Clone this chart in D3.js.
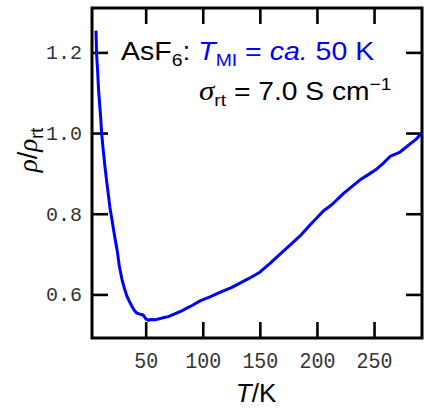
<!DOCTYPE html>
<html><head><meta charset="utf-8">
<script src="https://cdn.jsdelivr.net/npm/d3@7"></script>
<style>
html,body{margin:0;padding:0;background:#fff;}
svg{display:block;}
</style></head>
<body>
<svg id="c" width="424" height="409"></svg>
<script>
const temperature = [6.5, 7.0, 7.9, 8.8, 10.6, 11.5, 12.9, 14.3, 15.8, 17.3, 18.7, 20.2, 21.6, 23.1, 24.6, 25.1, 26.9, 28.2, 29.5, 31.4, 33.4, 35.5, 37.7, 40.0, 42.1, 45.0, 47.9, 50.0, 52.3, 55.0, 58.0, 61.0, 65.0, 69.8, 75.0, 81.5, 86.0, 90.3, 97.6, 106.3, 115, 125, 132.6, 140, 150, 158.9, 167.7, 176.4, 185.2, 193.9, 200, 205.6, 213.2, 223.1, 230, 237.8, 245, 252.4, 258, 264, 272.8, 281.6, 287, 290.4, 292];
const rhoRatio = [1.254, 1.197, 1.155, 1.105, 1.038, 0.998, 0.956, 0.918, 0.882, 0.848, 0.815, 0.790, 0.765, 0.740, 0.716, 0.708, 0.671, 0.652, 0.634, 0.615, 0.597, 0.584, 0.572, 0.561, 0.554, 0.551, 0.549, 0.540, 0.536, 0.538, 0.537, 0.539, 0.542, 0.545, 0.551, 0.559, 0.566, 0.572, 0.584, 0.594, 0.605, 0.617, 0.628, 0.639, 0.655, 0.677, 0.700, 0.722, 0.745, 0.772, 0.790, 0.807, 0.823, 0.850, 0.866, 0.884, 0.897, 0.911, 0.925, 0.942, 0.953, 0.973, 0.985, 0.996, 1.0];
const xTicks = [50, 100, 150, 200, 250];
const yTicks = [0.6, 0.8, 1.0, 1.2];
const yTickLabels = ["0.6", "0.8", "1.0", "1.2"];

const L = 92, R = 422, T = 8, B = 338;
const svg = d3.select("#c");
const x = d3.scaleLinear().domain([3, 292]).range([L, R]);
const y = d3.scaleLinear().domain([0.492, 1.31]).range([B, T]);

const tickLen = 16;
const tickFont = "Liberation Mono, DejaVu Sans Mono, monospace";
function styleAxis(g){
  g.select(".domain").remove();
  g.selectAll(".tick line").attr("stroke", "#000").attr("stroke-width", 2.6);
}
// bottom axis
svg.append("g").attr("transform", `translate(0,${B})`)
  .call(d3.axisBottom(x).tickValues(xTicks).tickSize(-tickLen).tickPadding(14).tickFormat(d3.format("d")))
  .call(styleAxis)
  .call(g => g.selectAll("text").attr("font-family", tickFont)
     .attr("font-size", 21).attr("fill", "#333").attr("dy", "0.71em")
     .attr("transform", "scale(0.95,1.05)"));
// top axis
svg.append("g").attr("transform", `translate(0,${T})`)
  .call(d3.axisTop(x).tickValues(xTicks).tickSize(-tickLen).tickFormat(""))
  .call(styleAxis);
// left axis
svg.append("g").attr("transform", `translate(${L},0)`)
  .call(d3.axisLeft(y).tickValues(yTicks).tickSize(-tickLen).tickPadding(10).tickFormat((d,i) => yTickLabels[i]))
  .call(styleAxis)
  .call(g => g.selectAll("text").attr("font-family", tickFont)
     .attr("font-size", 20).attr("fill", "#333"));
// right axis
svg.append("g").attr("transform", `translate(${R},0)`)
  .call(d3.axisRight(y).tickValues(yTicks).tickSize(-tickLen).tickFormat(""))
  .call(styleAxis);

// frame
svg.append("rect").attr("x", L).attr("y", T).attr("width", R - L).attr("height", B - T)
  .attr("fill", "none").attr("stroke", "#000").attr("stroke-width", 3);

// data line
const pts = temperature.map((t, i) => [t, rhoRatio[i]]);
svg.append("path").datum(pts)
  .attr("fill", "none").attr("stroke", "#0000ff").attr("stroke-width", 3)
  .attr("stroke-linejoin", "round")
  .attr("d", d3.line().x(d => x(d[0])).y(d => y(d[1])));

// annotations
const sans = "Liberation Sans, Arial, sans-serif";
const serif = "Liberation Serif, Times New Roman, serif";
const fs = 25;
const t1 = svg.append("text").attr("x", 121).attr("y", 60).attr("font-family", sans).attr("font-size", fs).attr("fill", "#000")
  .attr("transform", "translate(121,60) scale(1.14,1) translate(-121,-60)");
t1.append("tspan").text("AsF");
t1.append("tspan").attr("font-size", fs * 0.68).attr("dy", 6).text("6");
t1.append("tspan").attr("dy", -6).text(": ");
t1.append("tspan").attr("fill", "#0000ff").attr("font-style", "italic").text("T");
t1.append("tspan").attr("fill", "#0000ff").attr("font-size", fs * 0.68).attr("dy", 6).text("MI");
t1.append("tspan").attr("fill", "#0000ff").attr("dy", -6).text(" = ");
t1.append("tspan").attr("fill", "#0000ff").attr("font-style", "italic").text("ca.");
t1.append("tspan").attr("fill", "#0000ff").text(" 50 K");

const t2 = svg.append("text").attr("x", 199).attr("y", 100).attr("font-family", sans).attr("font-size", fs).attr("fill", "#000")
  .attr("transform", "translate(199,100) scale(1.13,1) translate(-199,-100)");
t2.append("tspan").attr("font-family", serif).attr("font-style", "italic").attr("font-size", fs * 1.1).text("σ");
t2.append("tspan").attr("font-size", fs * 0.68).attr("dy", 6).text("rt");
t2.append("tspan").attr("dy", -6).text(" = 7.0 S cm");
t2.append("tspan").attr("font-size", fs * 0.68).attr("dy", -10).text("−1");

// x axis title
const xt = svg.append("text").attr("x", 256).attr("y", 402).attr("text-anchor", "middle")
  .attr("font-family", sans).attr("font-size", 26).attr("fill", "#000");
xt.append("tspan").attr("font-style", "italic").text("T");
xt.append("tspan").text("/K");

// y axis title
const yt = svg.append("text").attr("transform", "translate(37,150) rotate(-90)").attr("text-anchor", "middle")
  .attr("font-family", sans).attr("font-size", 27).attr("fill", "#000");
yt.append("tspan").attr("font-family", serif).attr("font-style", "italic").text("ρ");
yt.append("tspan").text("/");
yt.append("tspan").attr("font-family", serif).attr("font-style", "italic").text("ρ");
yt.append("tspan").attr("font-size", 18).attr("dy", 6).text("rt");
</script>
</body></html>
